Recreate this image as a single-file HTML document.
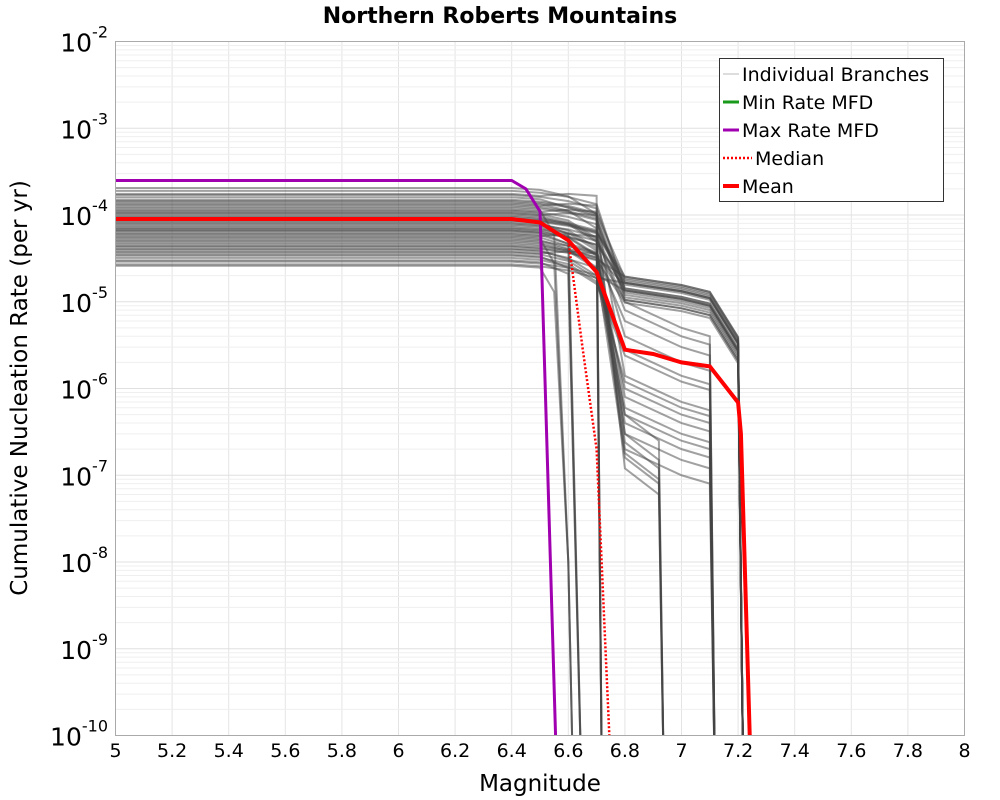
<!DOCTYPE html>
<html><head><meta charset="utf-8">
<style>
body{margin:0;background:#fff;}
svg{display:block;font-family:"DejaVu Sans","Liberation Sans",sans-serif;}
</style></head>
<body>
<svg id="chart" width="1000" height="800" xmlns="http://www.w3.org/2000/svg">
<text x="500" y="23" text-anchor="middle" font-size="22" font-weight="bold">Northern Roberts Mountains</text>
<g id="grid"></g>
<g id="branches"></g>
<g id="series"></g>
<rect x="115.5" y="41.5" width="849" height="694" fill="none" stroke="#aaa"/>
<g id="yticks"></g>
<g id="xticks"></g>
<text x="540" y="791" text-anchor="middle" font-size="23">Magnitude</text>
<text transform="translate(27,388) rotate(-90)" text-anchor="middle" font-size="23">Cumulative Nucleation Rate (per yr)</text>
<g>
<rect x="719.5" y="58.5" width="224" height="143" fill="#fff" stroke="#333"/>
<g><line x1="723" y1="74" x2="739" y2="74" stroke="#bbb" stroke-width="1"/><text x="742" y="81" font-size="19">Individual Branches</text></g>
<g><line x1="723" y1="102" x2="739" y2="102" stroke="#1a9a1a" stroke-width="3"/><text x="742" y="109" font-size="19">Min Rate MFD</text></g>
<g><line x1="723" y1="130" x2="739" y2="130" stroke="#a000b0" stroke-width="3"/><text x="742" y="137" font-size="19">Max Rate MFD</text></g>
<g><line x1="723" y1="158" x2="752" y2="158" stroke="#f00" stroke-width="2.5" stroke-dasharray="2,2"/><text x="755" y="165" font-size="19">Median</text></g>
<g><line x1="723" y1="186" x2="739" y2="186" stroke="#f00" stroke-width="4"/><text x="742" y="193" font-size="19">Mean</text></g>
</g>
</svg>
<script>
const xTicks=[5,5.2,5.4,5.6,5.8,6,6.2,6.4,6.6,6.8,7,7.2,7.4,7.6,7.8,8];
const yDecades=[-2,-3,-4,-5,-6,-7,-8,-9,-10];
const meanMags=[5,6.4,6.5,6.6,6.7,6.8,6.9,7.0,7.1,7.2,7.21,7.25];
const meanRates=[9e-5,9e-5,8.2e-5,5.1e-5,2.2e-5,2.8e-6,2.5e-6,2.0e-6,1.8e-6,6.9e-7,3e-7,1e-11];
const maxMags=[5,6.4,6.45,6.5,6.555];
const maxRates=[2.5e-4,2.5e-4,2.0e-4,1.1e-4,1e-10];
const medianMags=[6.6,6.65,6.7,6.745];
const medianRates=[5.1e-5,3e-6,2e-7,1e-10];
const branchPlateaus=[2.6e-5,2.9e-5,3.2e-5,3.5e-5,3.8e-5,4.1e-5,4.4e-5,4.8e-5,5.2e-5,5.6e-5,6e-5,6.5e-5,7e-5,7.5e-5,8e-5,8.6e-5,9.2e-5,9.8e-5,1.05e-4,1.12e-4,1.2e-4,1.3e-4,1.4e-4,1.5e-4,1.6e-4,1.75e-4,1.9e-4,2.05e-4,3e-5,4.6e-5,6.8e-5,9e-5,1.15e-4,1.45e-4,5.4e-5,7.8e-5,2.7e-5,3.4e-5,4.3e-5,5e-5,6.2e-5,7.2e-5,8.3e-5,9.5e-5,1.08e-4,1.25e-4,1.35e-4,1.7e-4,3.7e-5,5.8e-5,8.8e-5,1.02e-4,6.6e-5,4e-5];
const branchTypes=["A","B","C","D","E","F","B","C","B","A","E","B","C","F","B","D","B","C","E","B","A","B","C","B","F","E","B","C","D","B","C","B","E","B","F","C","B","C","B","C","F","B","C","B","C","B","E","B","C","F","B","C","D","C"];
const branchLevels=[1,0.9,1.2,1,1,0.8,1.3,0.5,0.7,1,1,1.1,0.3,1.5,0.85,1,1.2,2,1,0.95,1,0.75,0.15,1.25,0.6,1,0.9,0.7,1,1.05,3,1.15,1,0.8,2.5,0.4,1.1,1.4,0.65,0.25,1.2,0.9,0.1,1.3,4,0.7,1,0.95,0.6,0.9,1.1,5,1,0.2];
const branchTail={
 A:{mags:[6.55,6.6,6.62],rates:[0.5,1e-8,1e-11]},
 B:{mags:[6.6,6.7,6.8,7.0,7.1,7.2,7.22],rates:[0.85,0.7,1.5e-5,1.2e-5,1.0e-5,3e-6,1e-11]},
 C:{mags:[6.6,6.7,6.8,7.0,7.1,7.12],rates:[0.8,0.5,2e-6,1e-6,8e-7,1e-11]},
 D:{mags:[6.6,6.65],rates:[0.7,1e-11]},
 E:{mags:[6.6,6.7,6.72],rates:[1.0,0.95,1e-11]},
 F:{mags:[6.7,6.8,6.92,6.94],rates:[0.6,2e-7,1e-7,1e-11]}
};
const X0=115.5,X1=964.5,Y0=41.5,Y1=735.5;
const xs=m=>X0+(m-5)/3*(X1-X0);
const ys=r=>Y0+(-2-Math.log10(r))/8*(Y1-Y0);
const NS="http://www.w3.org/2000/svg";
function mk(tag,parent,attrs){const e=document.createElementNS(NS,tag);for(const k in attrs)e.setAttribute(k,attrs[k]);parent.appendChild(e);return e;}
const grid=document.getElementById('grid');
for(const t of xTicks){const l=mk('line',grid,{x1:xs(t),x2:xs(t),y1:Y0,y2:Y1,stroke:'#e4e4e4'});

}
for(let d=-10;d<-2;d++)for(let k=1;k<10;k++){const y=ys(k*Math.pow(10,d));const l=mk('line',grid,{x1:X0,x2:X1,y1:y,y2:y,stroke:k==1?'#e0e0e0':'#efefef'});

}
const clip=mk('clipPath',document.getElementById('chart'),{id:'pc'});mk('rect',clip,{x:X0,y:Y0,width:X1-X0,height:Y1-Y0});
const bg=document.getElementById('branches');bg.setAttribute('clip-path','url(#pc)');
branchPlateaus.forEach((p,i)=>{
 const t=branchTail[branchTypes[i]];
 const lv=branchLevels[i];
 const mags=[5,6.4,6.5].concat(t.mags);
 const rates=[p,p,p*0.95].concat(t.rates.map(v=>v>=0.4?v*p:(v>1e-10?v*lv:v)));
 const pts=mags.map((m,j)=>xs(m)+','+ys(rates[j])).join(' ');
 const pl=mk('polyline',bg,{points:pts,fill:'none',stroke:'#444',"stroke-opacity":0.5,"stroke-width":2});
 
 
});
const sg=document.getElementById('series');sg.setAttribute('clip-path','url(#pc)');
function line(mags,rates,attrs,name){const pts=mags.map((m,j)=>xs(m)+','+ys(rates[j])).join(' ');attrs.points=pts;attrs.fill='none';const p=mk('polyline',sg,attrs);

}
line(maxMags,maxRates,{stroke:'#a000b0','stroke-width':3},'max-rate-line');
line(medianMags,medianRates,{stroke:'#f00','stroke-width':2.5,'stroke-dasharray':'2,2'},'median-line');
line(meanMags,meanRates,{stroke:'#f00','stroke-width':4},'mean-line');
const yt=document.getElementById('yticks');
for(const d of yDecades){const y=ys(Math.pow(10,d));const t=mk('text',yt,{x:108,y:y+10,'text-anchor':'end','font-size':25});


t.appendChild(document.createTextNode('10'));const s=mk('tspan',t,{dy:-14,'font-size':16});s.textContent=String(d);}
const xt=document.getElementById('xticks');
for(const v of xTicks){const t=mk('text',xt,{x:xs(v),y:757,'text-anchor':'middle','font-size':19});


t.textContent=String(Math.round(v*10)/10);}
</script>
</body></html>
